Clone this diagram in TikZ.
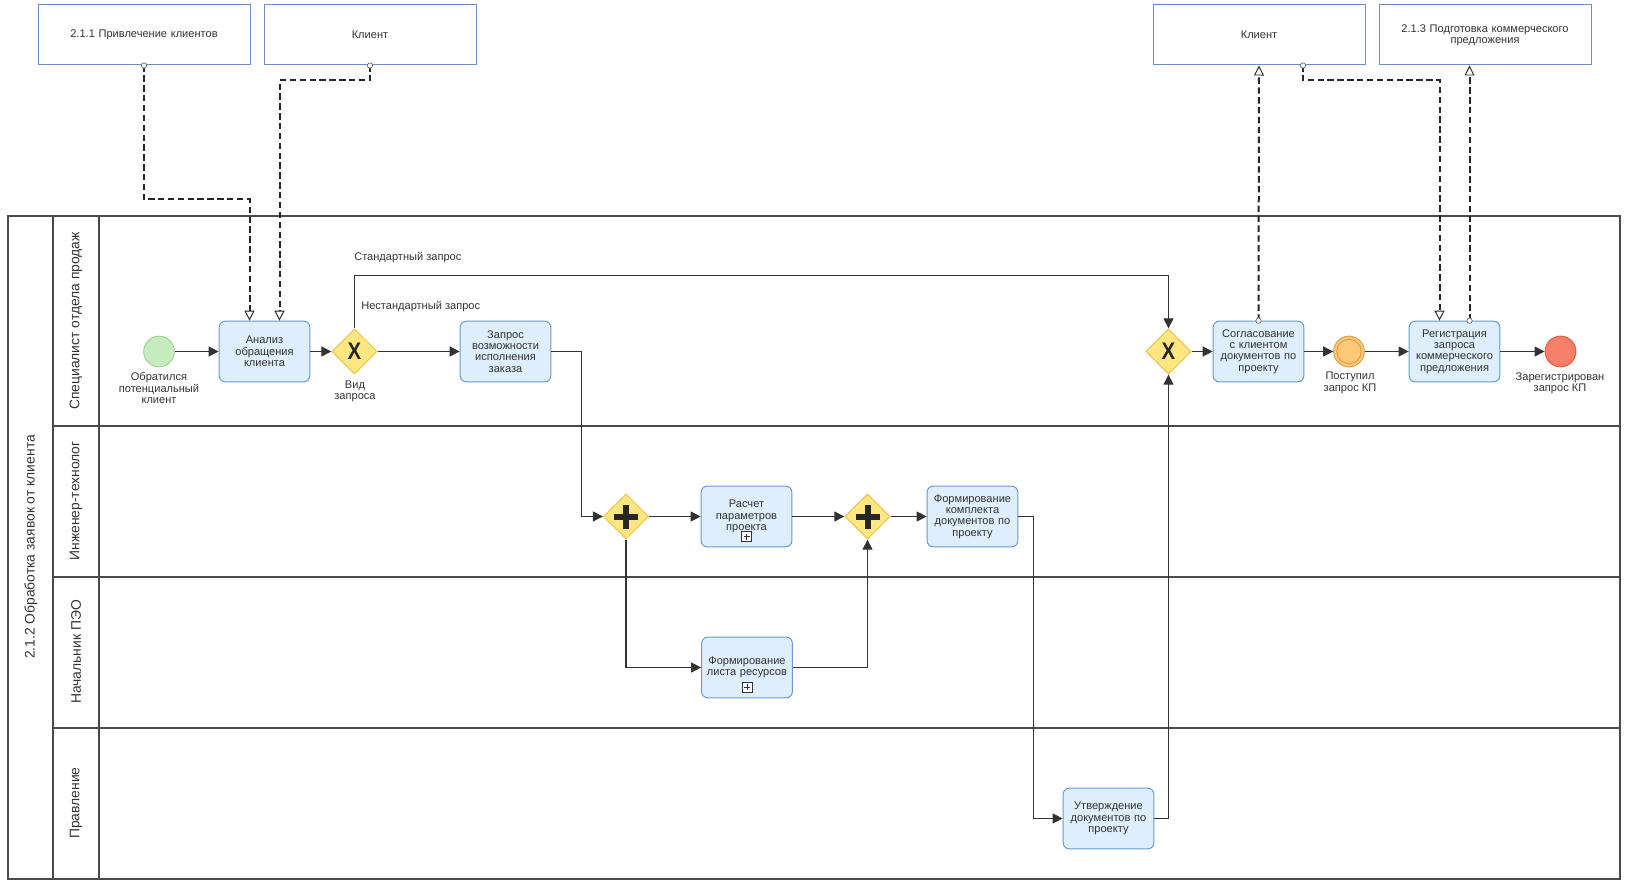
\documentclass[tikz,border=0pt]{standalone}
\usepackage{fontspec}
\setmainfont{Liberation Sans}
\usetikzlibrary{arrows.meta,shapes.geometric,calc}
\definecolor{taskfill}{HTML}{DEEEFC}
\definecolor{taskline}{HTML}{6A9AD0}
\definecolor{gwfill}{HTML}{FFE680}
\definecolor{gwline}{HTML}{E6C650}
\definecolor{startfill}{HTML}{C6EBBE}
\definecolor{startline}{HTML}{A3D497}
\definecolor{midfill}{HTML}{FFC878}
\definecolor{midline}{HTML}{D9A24A}
\definecolor{endfill}{HTML}{F77E69}
\definecolor{endline}{HTML}{DD6650}
\definecolor{boxline}{HTML}{6C8EBF}
\definecolor{txt}{HTML}{333333}
\definecolor{flowc}{HTML}{333333}
\definecolor{poolc}{HTML}{4A4A4A}
\newcommand{\fs}{\fontsize{8.3pt}{8.5pt}\selectfont}
\newcommand{\lanefs}{\fontsize{10.4pt}{11pt}\selectfont}
\begin{document}
\begin{tikzpicture}[x=0.75pt,y=-0.75pt,
  every node/.style={text=txt},
  task/.style={draw=taskline, fill=taskfill, rounded corners=4.5pt, minimum width=68pt, minimum height=45.5pt, text width=64pt, align=center, inner sep=0pt, font=\fs, line width=0.75pt},
  gw/.style={diamond, draw=gwline, fill=gwfill, minimum width=34pt, minimum height=34pt, inner sep=0pt, line width=0.75pt},
  startev/.style={circle, draw=startline, fill=startfill, minimum size=23pt, inner sep=0pt, line width=0.75pt},
  midev/.style={circle, draw=midline, fill=midfill, minimum size=23pt, inner sep=0pt, line width=0.75pt},
  endev/.style={circle, draw=endline, fill=endfill, minimum size=23pt, inner sep=0pt, line width=0.9pt},
  pbox/.style={draw=boxline, fill=white, minimum width=159pt, minimum height=45pt, text width=150pt, align=center, inner sep=0pt, font=\fs, line width=0.75pt},
  lbl/.style={font=\fs, align=center, inner sep=0pt},
  lanelbl/.style={font=\lanefs, rotate=90, inner sep=0pt},
  flow/.style={draw=flowc, line width=0.8pt, -{Triangle[length=7.5pt,width=7.5pt]}},
  assoc/.style={draw=black!85, line width=1.5pt, dash pattern=on 4.8pt off 2.6pt, -{Triangle[open, length=7.5pt, width=7.5pt, line width=0.7pt, fill=white]}},
  dot/.style={circle, draw=black!60, fill=white, minimum size=4pt, inner sep=0pt, line width=0.5pt},
  xmark/.style={font=\bfseries\fontsize{18pt}{18pt}\selectfont, xscale=0.85, text=black!85, inner sep=0pt},
  plusmark/.style={draw=black!85, line width=4.5pt},
  submark/.style={draw=black!80, fill=white, minimum size=7.5pt, inner sep=0pt, line width=0.6pt},
  poolline/.style={draw=poolc, line width=0.85pt}
]
\useasboundingbox (0,0) rectangle (1628,884);

% pool and lanes
\draw[poolline] (8,216) rectangle (1620,879);
\draw[poolline] (53,216) -- (53,879);
\draw[poolline] (99,216) -- (99,879);
\draw[poolline] (53,426) -- (1620,426);
\draw[poolline] (53,577) -- (1620,577);
\draw[poolline] (53,728) -- (1620,728);
\node[lanelbl] (poolname) at (31,547) {2.1.2 Обработка заявок от клиента};
\node[lanelbl] (lane1) at (76,321) {Специалист отдела продаж};
\node[lanelbl] (lane2) at (76,501) {Инженер-технолог};
\node[lanelbl] (lane3) at (76,652) {Начальник ПЭО};
\node[lanelbl] (lane4) at (76,803) {Правление};

% top boxes
\node[pbox] (b1) at (144,35) {2.1.1 Привлечение клиентов};
\node[pbox] (b2) at (370,35) {Клиент};
\node[pbox] (b3) at (1259,35) {Клиент};
\node[pbox] (b4) at (1485,35) {2.1.3 Подготовка коммерческого\\предложения};

% lane 1
\node[startev] (start) at (159,351.5) {};
\node[lbl] (startlbl) at (159,388) {Обратился\\потенциальный\\клиент};
\node[task] (t1) at (264.5,351.5) {Анализ\\обращения\\клиента};
\node[gw] (g1) at (354.5,351.5) {};
\node[xmark] (g1x) at (g1.center) {X};
\node[lbl] (g1lbl) at (355,391.5) {Вид\\запроса};
\node[task] (t2) at (505.5,351.5) {Запрос\\возможности\\исполнения\\заказа};
\node[gw] (g2) at (1168.5,351.5) {};
\node[xmark] (g2x) at (g2.center) {X};
\node[task] (t3) at (1258.5,351.5) {Согласование\\с клиентом\\документов по\\проекту};
\node[midev] (ie) at (1349,351.5) {};
\draw[midline, line width=0.75pt] (ie.center) circle (9.2pt);
\node[lbl] (ielbl) at (1350,383) {Поступил\\запрос КП};
\node[task] (t4) at (1454.5,351.5) {Регистрация\\запроса\\коммерческого\\предложения};
\node[endev] (end) at (1560.5,351.5) {};
\node[lbl] (endlbl) at (1560,383) {Зарегистрирован\\запрос КП};
\node[lbl, anchor=west] (stdlbl) at (354,258) {Стандартный запрос};
\node[lbl, anchor=west] (nstdlbl) at (361,307) {Нестандартный запрос};

% lane 2
\node[gw] (p1) at (626,516.5) {};
\draw[plusmark] ($(p1.center)+(-12,0)$) -- ($(p1.center)+(12,0)$);
\draw[plusmark] ($(p1.center)+(0,-12)$) -- ($(p1.center)+(0,12)$);
\node[task] (t5) at (746.5,516.5) {Расчет\\параметров\\проекта};
\node[submark] (m5) at ($(t5.center)+(0,20)$) {};
\draw[black!80, line width=0.6pt] ($(m5.center)+(-3,0)$) -- ($(m5.center)+(3,0)$);
\draw[black!80, line width=0.6pt] ($(m5.center)+(0,-3)$) -- ($(m5.center)+(0,3)$);
\node[gw] (p2) at (867.5,516.5) {};
\draw[plusmark] ($(p2.center)+(-12,0)$) -- ($(p2.center)+(12,0)$);
\draw[plusmark] ($(p2.center)+(0,-12)$) -- ($(p2.center)+(0,12)$);
\node[task] (t6) at (972.5,516.5) {Формирование\\комплекта\\документов по\\проекту};

% lane 3
\node[task] (t7) at (747,667.5) {Формирование\\листа ресурсов\\[9pt]};
\node[submark] (m7) at ($(t7.center)+(0,19.5)$) {};
\draw[black!80, line width=0.6pt] ($(m7.center)+(-3,0)$) -- ($(m7.center)+(3,0)$);
\draw[black!80, line width=0.6pt] ($(m7.center)+(0,-3)$) -- ($(m7.center)+(0,3)$);

% lane 4
\node[task] (t8) at (1108.5,818.5) {Утверждение\\документов по\\проекту};

% sequence flows
\draw[flow] (start) -- (t1);
\draw[flow] (t1) -- (g1);
\draw[flow] (g1) -- (t2);
\draw[flow] (g1.north) -- ++(0,-53) -| (g2.north);
\draw[flow] (g2) -- (t3);
\draw[flow] (t3) -- (ie);
\draw[flow] (ie) -- (t4);
\draw[flow] (t4) -- (end);
\draw[flow] (t2.east) -- ++(30,0) |- (p1.west);
\draw[flow] (p1) -- (t5);
\draw[flow] (p1.south) |- (t7.west);
\draw[flow] (t7.east) -| (p2.south);
\draw[flow] (t5) -- (p2);
\draw[flow] (p2) -- (t6);
\draw[flow] (t6.east) -- ++(15,0) |- (t8.west);
\draw[flow] (t8.east) -| (g2.south);

% associations
\draw[assoc] (b1.south) -- ++(0,134) -| ($(t1.north)+(-15,0)$);
\node[dot] (d1) at (b1.south) {};
\draw[assoc] (b2.south) -- ++(0,15) -| ($(t1.north)+(15,0)$);
\node[dot] (d2) at (b2.south) {};
\draw[assoc] (t3.north) -- (b3.south);
\node[dot] (d3) at (t3.north) {};
\draw[assoc] ($(b3.south)+(44,0)$) -- ++(0,15) -| ($(t4.north)+(-15,0)$);
\node[dot] (d4) at ($(b3.south)+(44,0)$) {};
\draw[assoc] ($(t4.north)+(15,0)$) -- (b4.south -| {$(t4.north)+(15,0)$});
\node[dot] (d5) at ($(t4.north)+(15,0)$) {};
\end{tikzpicture}
\end{document}
